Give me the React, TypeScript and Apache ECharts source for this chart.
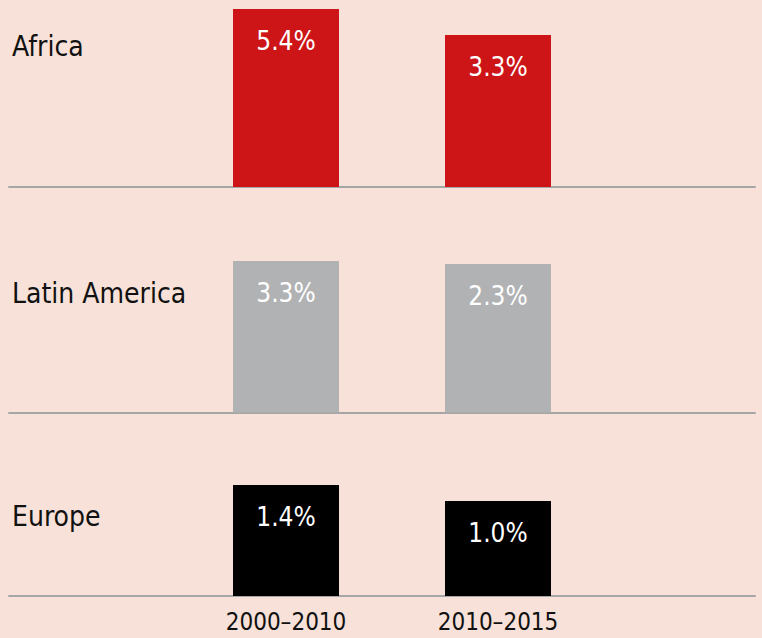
import React, { useEffect, useRef } from "react";
import * as echarts from "echarts";

// ---- data ----
const regions = ["Africa", "Latin America", "Europe"];
const periods = ["2000–2010", "2010–2015"];
// growth rates printed on the bars (%)
const africaRates = [5.4, 3.3];
const latinAmericaRates = [3.3, 2.3];
const europeRates = [1.4, 1.0];
// bar heights as drawn in the source graphic (not proportional to the rates)
const africaBarHeights = [178, 152];
const latinAmericaBarHeights = [151.5, 148.5];
const europeBarHeights = [111, 95];

const rateSets = [africaRates, latinAmericaRates, europeRates];
const heightSets = [africaBarHeights, latinAmericaBarHeights, europeBarHeights];

// ---- styling / layout ----
const W = 762;
const H = 638;
const BG = "#f7e1d8";
const barColors = ["#cd1417", "#b1b2b4", "#000000"];
const axisColor = "#a6a6a6";
const FONT = "'DejaVu Sans Condensed', 'DejaVu Sans', sans-serif";
const baselines = [187, 412.5, 596];
const labelCenters = [46, 293, 516];
const PANEL_H = 180;

export default function App() {
  const ref = useRef<HTMLDivElement>(null);
  useEffect(() => {
    if (!ref.current) return;
    const chart = echarts.init(ref.current, undefined, { renderer: "svg" });

    const frameGrids = baselines.map((b) => ({
      left: 9,
      right: 7,
      bottom: H - b,
      height: 10,
      containLabel: false,
    }));
    const barGrids = baselines.map((b) => ({
      left: 180,
      right: W - 604,
      bottom: H - b,
      height: PANEL_H,
      containLabel: false,
    }));

    const xAxes: any[] = [];
    const yAxes: any[] = [];
    baselines.forEach((_, i) => {
      xAxes.push({
        type: "value",
        gridIndex: i,
        min: 0,
        max: 1,
        axisLine: { show: true, lineStyle: { color: axisColor, width: 2 } },
        axisTick: { show: false },
        axisLabel: { show: false },
        splitLine: { show: false },
      });
      yAxes.push({
        type: "value",
        gridIndex: i,
        show: false,
        min: 0,
        max: 1,
        splitLine: { show: false },
      });
    });
    baselines.forEach((_, i) => {
      xAxes.push({
        type: "category",
        gridIndex: 3 + i,
        data: periods,
        axisLine: { show: false },
        axisTick: { show: false },
        axisLabel: {
          show: i === 2,
          color: "#111",
          fontFamily: FONT,
          fontSize: 24,
          margin: 14,
        },
        splitLine: { show: false },
      });
      yAxes.push({
        type: "value",
        gridIndex: 3 + i,
        show: false,
        min: 0,
        max: PANEL_H,
        splitLine: { show: false },
      });
    });

    const series = regions.map((r, i) => ({
      type: "bar",
      name: r,
      xAxisIndex: 3 + i,
      yAxisIndex: 3 + i,
      data: heightSets[i],
      barWidth: 106,
      itemStyle: { color: barColors[i] },
      z: 5,
      label: {
        show: true,
        position: "insideTop",
        distance: 19,
        color: "#ffffff",
        fontFamily: FONT,
        fontSize: 26,
        formatter: (p: any) => rateSets[i][p.dataIndex].toFixed(1) + "%",
      },
    }));

    chart.setOption({
      animation: false,
      backgroundColor: BG,
      grid: [...frameGrids, ...barGrids],
      xAxis: xAxes,
      yAxis: yAxes,
      series,
      graphic: regions.map((r, i) => ({
        type: "text",
        x: 12,
        y: labelCenters[i],
        z: 10,
        style: {
          text: r,
          fill: "#111",
          font: `28px ${FONT}`,
          verticalAlign: "middle",
        },
      })),
    });
    return () => chart.dispose();
  }, []);
  return (
    <div
      ref={ref}
      style={{ position: "absolute", left: 0, top: 0, width: W, height: H }}
    />
  );
}
